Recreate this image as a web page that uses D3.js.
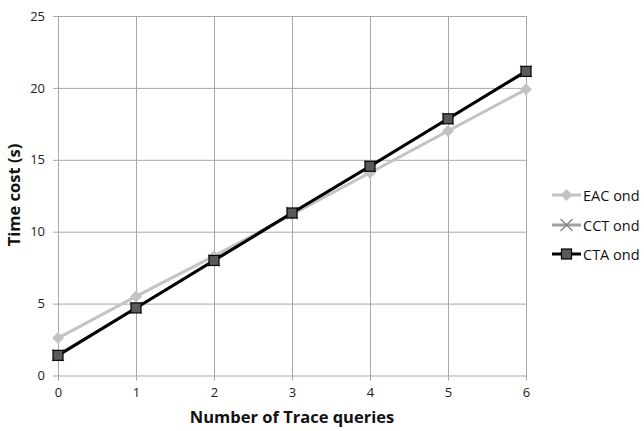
<!DOCTYPE html>
<html>
<head>
<meta charset="utf-8">
<script src="https://cdn.jsdelivr.net/npm/d3@7"></script>
<style>
  html, body { margin: 0; padding: 0; background: #fff; }
  svg { display: block; font-family: "Open Sans", sans-serif; }
</style>
</head>
<body>
<svg id="chart" width="644" height="431"></svg>
<script>
// Number of trace queries on the x axis
const queries = [0, 1, 2, 3, 4, 5, 6];
// Time cost in seconds for each method
const eacOnd = [2.6, 5.5, 8.3, 11.2, 14.1, 17.0, 19.9];
const cctOnd = [1.4, 4.7, 8.0, 11.3, 14.55, 17.85, 21.15];
const ctaOnd = [1.4, 4.7, 8.0, 11.3, 14.55, 17.85, 21.15];
const yTicks = [0, 5, 10, 15, 20, 25];
const seriesNames = ["EAC ond", "CCT ond", "CTA ond"];

const svg = d3.select("#chart");
const plot = { left: 58, right: 526, top: 16, bottom: 375.5 };
const font = "'Open Sans', sans-serif";

const x = d3.scaleLinear().domain([0, 6]).range([plot.left, plot.right]);
const y = d3.scaleLinear().domain([0, 25]).range([plot.bottom, plot.top]);

const gridColor = "#a8a8a8";

// Horizontal gridlines with short ticks on the left
const yAxis = d3.axisLeft(y).tickValues(yTicks).tickSize(-(plot.right - plot.left));
const gy = svg.append("g").attr("transform", `translate(${plot.left},0)`).call(yAxis);
gy.select(".domain").remove();
gy.selectAll(".tick line").attr("stroke", gridColor).attr("x1", -5);
gy.selectAll(".tick text").attr("font-size", 13).attr("fill", "#222").attr("x", -13)
  .attr("font-family", font);

// Vertical gridlines with short ticks below the axis
const xAxis = d3.axisBottom(x).tickValues(queries).tickSize(-(plot.bottom - plot.top))
  .tickFormat(d3.format("d"));
const gx = svg.append("g").attr("transform", `translate(0,${plot.bottom})`).call(xAxis);
gx.select(".domain").remove();
gx.selectAll(".tick line").attr("stroke", gridColor).attr("y1", 5);
gx.selectAll(".tick text").attr("font-size", 13).attr("fill", "#222").attr("y", 12)
  .attr("font-family", font);

// Axis titles
svg.append("text")
  .attr("x", 292).attr("y", 423)
  .attr("text-anchor", "middle")
  .attr("font-size", 16.5).attr("font-weight", "bold").attr("fill", "#111")
  .text("Number of Trace queries");
svg.append("text")
  .attr("transform", "translate(20,195) rotate(-90)")
  .attr("text-anchor", "middle")
  .attr("font-size", 16.5).attr("font-weight", "bold").attr("fill", "#111")
  .text("Time cost (s)");

const line = d3.line().x((d, i) => x(queries[i])).y(d => y(d));

const styles = [
  { color: "#c3c3c3", marker: "diamond", fill: "#c3c3c3", stroke: "none" },
  { color: "#a0a0a0", marker: "cross", fill: "none", stroke: "#808080" },
  { color: "#000000", marker: "square", fill: "#5a5a5a", stroke: "#000" }
];
const data = [eacOnd, cctOnd, ctaOnd];

function drawMarker(g, kind, cx, cy, st) {
  if (kind === "diamond") {
    g.append("path")
      .attr("d", `M${cx},${cy - 6}L${cx + 6},${cy}L${cx},${cy + 6}L${cx - 6},${cy}Z`)
      .attr("fill", st.fill);
  } else if (kind === "cross") {
    const r = 6;
    g.append("path")
      .attr("d", `M${cx - r},${cy - r}L${cx + r},${cy + r}M${cx - r},${cy + r}L${cx + r},${cy - r}`)
      .attr("stroke", st.stroke).attr("stroke-width", 1.2).attr("fill", "none");
  } else {
    g.append("rect")
      .attr("x", cx - 5).attr("y", cy - 5).attr("width", 10).attr("height", 10)
      .attr("fill", st.fill).attr("stroke", st.stroke).attr("stroke-width", 1.2);
  }
}

data.forEach((vals, si) => {
  const st = styles[si];
  const g = svg.append("g");
  g.append("path").datum(vals)
    .attr("d", line)
    .attr("fill", "none").attr("stroke", st.color).attr("stroke-width", 3)
    .attr("stroke-linejoin", "round");
  vals.forEach((v, i) => drawMarker(g, st.marker, x(queries[i]), y(v), st));
});

// Legend
const legendY = [195, 225, 254];
seriesNames.forEach((name, i) => {
  const st = styles[i];
  const g = svg.append("g");
  const ly = legendY[i];
  g.append("line").attr("x1", 552).attr("x2", 581).attr("y1", ly).attr("y2", ly)
    .attr("stroke", st.color).attr("stroke-width", 3);
  drawMarker(g, st.marker, 566.5, ly, st);
  g.append("text").attr("x", 583).attr("y", ly + 5.5)
    .attr("font-size", 14.5).attr("fill", "#111").text(name);
});
</script>
</body>
</html>
